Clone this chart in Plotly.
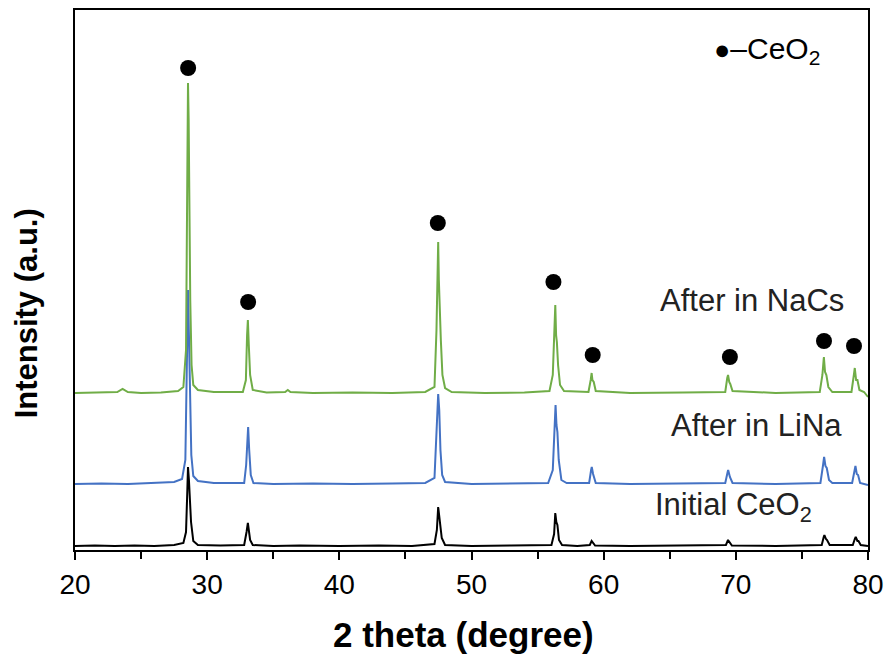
import plotly.graph_objects as go

# ---- data (y in arbitrary intensity units incl. vertical offsets) ----
initial_ceo2 = [
    (20, 4), (21.5, 4.5), (23, 4), (24.5, 4.5), (26, 4), (27.5, 5), (28.2, 7), (28.4, 18),
    (28.5, 60), (28.55, 83), (28.62, 70), (28.68, 58), (28.78, 28), (28.95, 9), (29.3, 5),
    (31, 4.5), (32.8, 5), (32.98, 18), (33.08, 27), (33.15, 20), (33.25, 10), (33.45, 5),
    (35, 4), (37, 4.5), (40, 4), (43, 4.5), (45.5, 4), (47.2, 6), (47.38, 20), (47.48, 43),
    (47.56, 34), (47.62, 32), (47.75, 12), (48.0, 5), (50, 4), (53, 4.5), (56.05, 5),
    (56.25, 16), (56.34, 37), (56.42, 28), (56.5, 25), (56.62, 10), (56.85, 5), (58, 4),
    (58.95, 5), (59.09, 9), (59.18, 7), (59.35, 4.5), (62, 4), (66, 4.5), (69.25, 5),
    (69.41, 10), (69.55, 7), (69.7, 4.5), (73, 4), (76.5, 5), (76.65, 13), (76.7, 15),
    (76.82, 11), (76.9, 10), (77.1, 5), (78.85, 5), (79.0, 11), (79.07, 13), (79.2, 9),
    (79.28, 9), (79.45, 5), (80, 4),
]

after_lina = [
    (20, 66), (22, 66.5), (24, 66), (26, 67), (27.5, 68), (28.1, 71), (28.35, 90), (28.48, 200),
    (28.55, 260), (28.62, 215), (28.7, 150), (28.8, 95), (28.95, 74), (29.3, 69), (30.5, 67),
    (32.8, 67), (32.95, 85), (33.05, 120), (33.1, 123), (33.18, 100), (33.3, 75), (33.5, 67),
    (35, 66), (38, 66.5), (41, 66), (44, 66.5), (46.5, 67), (47.2, 72), (47.38, 120),
    (47.48, 156), (47.56, 140), (47.65, 100), (47.78, 75), (48.0, 68), (50, 66), (53, 66.5),
    (55.8, 67), (56.15, 80), (56.3, 140), (56.36, 145), (56.43, 125), (56.5, 118), (56.6, 90),
    (56.8, 70), (57.2, 67), (58.9, 67), (59.05, 80), (59.1, 83), (59.2, 76), (59.4, 67),
    (62, 66), (66, 66.5), (69.2, 67), (69.38, 78), (69.42, 80), (69.55, 73), (69.75, 67),
    (73, 66), (76.4, 67), (76.6, 85), (76.68, 93), (76.78, 84), (76.88, 82), (77.05, 70),
    (77.3, 67), (78.8, 67), (78.98, 80), (79.05, 84), (79.15, 76), (79.25, 75), (79.4, 67),
    (80, 65),
]

after_nacs = [
    (20, 157), (21.5, 157.5), (23.2, 158), (23.6, 161), (24.0, 158), (25, 157), (26.5, 157.5),
    (27.8, 159), (28.2, 163), (28.4, 200), (28.5, 420), (28.55, 467), (28.6, 430), (28.65, 340),
    (28.72, 250), (28.82, 185), (28.95, 165), (29.3, 160), (30.5, 158), (32.7, 158),
    (32.93, 170), (33.02, 215), (33.08, 230), (33.15, 205), (33.25, 175), (33.45, 160),
    (34.5, 157.5), (35.9, 158), (36.1, 160), (36.3, 158), (38, 157), (41, 157.5), (44, 157),
    (46.5, 158), (47.2, 163), (47.35, 220), (47.45, 300), (47.48, 308), (47.53, 270),
    (47.6, 237), (47.68, 210), (47.8, 175), (48.0, 162), (48.5, 158), (51, 157), (54, 157.5),
    (55.9, 159), (56.15, 175), (56.28, 235), (56.34, 245), (56.4, 215), (56.46, 208),
    (56.55, 185), (56.7, 165), (57.0, 159), (58.85, 158), (59.02, 170), (59.09, 177),
    (59.15, 170), (59.25, 168), (59.4, 159), (62, 157), (66, 157.5), (69.2, 158), (69.35, 172),
    (69.41, 175), (69.5, 168), (69.58, 166), (69.75, 159), (73, 157), (76.35, 158),
    (76.55, 175), (76.66, 193), (76.75, 178), (76.85, 175), (77.0, 163), (77.3, 158),
    (78.75, 158), (78.93, 175), (79.0, 182), (79.1, 170), (79.2, 170), (79.35, 160),
    (79.7, 158), (80, 153),
]

ceo2_marker_x = [28.56, 33.1, 47.45, 56.2, 59.17, 69.55, 76.67, 78.94]
ceo2_marker_y = [482, 248, 327, 268, 195, 193, 209, 204]

x_ticks = [20, 30, 40, 50, 60, 70, 80]

labels = [
    ("After in NaCs", 78.33, 250),
    ("After in LiNa", 78.18, 125),
    ("Initial CeO<sub>2</sub>", 75.95, 43),
]

FONT = "Liberation Sans, Arial, sans-serif"

fig = go.Figure()
for pts, color in [(initial_ceo2, "#000000"), (after_lina, "#4472C4"), (after_nacs, "#70AD47")]:
    fig.add_trace(go.Scatter(
        x=[p[0] for p in pts], y=[p[1] for p in pts], mode="lines",
        line=dict(color=color, width=2), showlegend=False, hoverinfo="skip",
    ))

fig.add_trace(go.Scatter(
    x=ceo2_marker_x, y=ceo2_marker_y, mode="markers",
    marker=dict(color="black", size=16, line=dict(width=0)), showlegend=False,
))

for text, lx, ly in labels:
    fig.add_annotation(x=lx, y=ly, text=text, showarrow=False, xanchor="right", yanchor="middle",
                       font=dict(family=FONT, size=31, color="#222222"))

fig.add_annotation(x=76.5, y=500, text="<span style='font-size:27px'>●</span>–CeO<sub>2</sub>",
                   showarrow=False, xanchor="right", yanchor="middle",
                   font=dict(family=FONT, size=30, color="#000000"))

fig.add_annotation(xref="paper", yref="paper", x=-0.06, y=0.439, text="<b>Intensity (a.u.)</b>",
                   textangle=-90, showarrow=False, xanchor="center", yanchor="middle",
                   font=dict(family=FONT, size=31, color="#000000"))
fig.add_annotation(xref="paper", yref="paper", x=0.49, y=-0.157, text="<b>2 theta (degree)</b>",
                   showarrow=False, xanchor="center", yanchor="middle",
                   font=dict(family=FONT, size=35, color="#000000"))

fig.update_layout(
    width=884, height=654,
    margin=dict(l=75, r=16, t=10, b=104, autoexpand=False),
    paper_bgcolor="white", plot_bgcolor="white",
    font=dict(family=FONT, color="#000000"),
)
fig.update_xaxes(
    range=[20, 80], tickvals=x_ticks, ticktext=[str(v) for v in x_ticks],
    ticks="outside", ticklen=8, tickwidth=1.5, tickcolor="#000000",
    minor=dict(dtick=5, ticks="outside", ticklen=7, tickwidth=1.5, tickcolor="#000000", tick0=20),
    showline=True, linecolor="#000000", linewidth=2, mirror=True, automargin=False,
    showgrid=False, zeroline=False, tickfont=dict(family=FONT, size=28, color="#000000"),
)
fig.update_yaxes(
    range=[0, 540], showticklabels=False, ticks="", automargin=False,
    showline=True, linecolor="#000000", linewidth=2, mirror=True,
    showgrid=False, zeroline=False,
)

fig.write_html("out.html", config={"displayModeBar": False},
               post_script="document.body.style.margin='0';")
